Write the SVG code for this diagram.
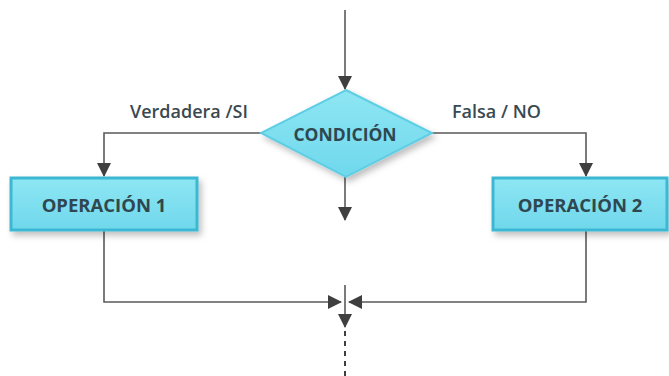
<svg xmlns="http://www.w3.org/2000/svg" width="669" height="376" viewBox="0 0 669 376">
  <defs>
    <marker id="arrow" viewBox="0 0 14 14" refX="13" refY="7" markerWidth="14" markerHeight="14" markerUnits="userSpaceOnUse" orient="auto">
      <path d="M0,0 L14,7 L0,14 Z" fill="#3f3f3f"/>
    </marker>
    <linearGradient id="cyan" x1="0" y1="0" x2="0" y2="1">
      <stop offset="0" stop-color="#8ee6f3"/>
      <stop offset="1" stop-color="#6fd8ec"/>
    </linearGradient>
    <filter id="shadow" x="-20%" y="-20%" width="150%" height="160%">
      <feDropShadow dx="3" dy="4" stdDeviation="3" flood-color="#000" flood-opacity="0.25"/>
    </filter>
  </defs>
  <style>
    .wire { fill: none; stroke: #5a5a5a; stroke-width: 1.6; }
    .dash { fill: none; stroke: #3f3f3f; stroke-width: 2; stroke-dasharray: 5 5; }
    .box { fill: url(#cyan); stroke: #3db8d3; stroke-width: 3; filter: url(#shadow); }
    .dia { fill: url(#cyan); stroke: #5fcde3; stroke-width: 2; filter: url(#shadow); }
    .lbl { font-family: "Open Sans", "Liberation Sans", sans-serif; font-weight: 600; font-size: 18px; fill: #3a4a50; }
    .node { font-family: "Open Sans", "Liberation Sans", sans-serif; font-weight: 700; fill: #2f4750; text-anchor: middle; }
  </style>

  <g id="connectors">
    <line class="wire" x1="345" y1="10" x2="345" y2="89" marker-end="url(#arrow)"/>
    <line class="wire" x1="345" y1="177" x2="345" y2="220" marker-end="url(#arrow)"/>
    <polyline class="wire" points="261,133 104,133 104,176" marker-end="url(#arrow)"/>
    <polyline class="wire" points="432,133 586,133 586,176" marker-end="url(#arrow)"/>
    <polyline class="wire" points="104,231 104,302 341,302" marker-end="url(#arrow)"/>
    <polyline class="wire" points="586,231 586,302 349,302" marker-end="url(#arrow)"/>
    <line class="wire" x1="345" y1="285" x2="345" y2="327" marker-end="url(#arrow)"/>
    <line class="dash" x1="345" y1="331" x2="345" y2="376"/>
    <text class="lbl" x="130" y="118">Verdadera /SI</text>
    <text class="lbl" x="452" y="118">Falsa / NO</text>
  </g>

  <g id="condicion">
    <polygon class="dia" points="346,90 432,133 346,177 261,133"/>
    <text class="node" x="345" y="141" font-size="17.5">CONDICIÓN</text>
  </g>

  <g id="operacion1">
    <rect class="box" x="11" y="178" width="186" height="52"/>
    <text class="node" x="104" y="212" font-size="18.5">OPERACIÓN 1</text>
  </g>

  <g id="operacion2">
    <rect class="box" x="493" y="178" width="174" height="52"/>
    <text class="node" x="580" y="212" font-size="18.5">OPERACIÓN 2</text>
  </g>
</svg>
